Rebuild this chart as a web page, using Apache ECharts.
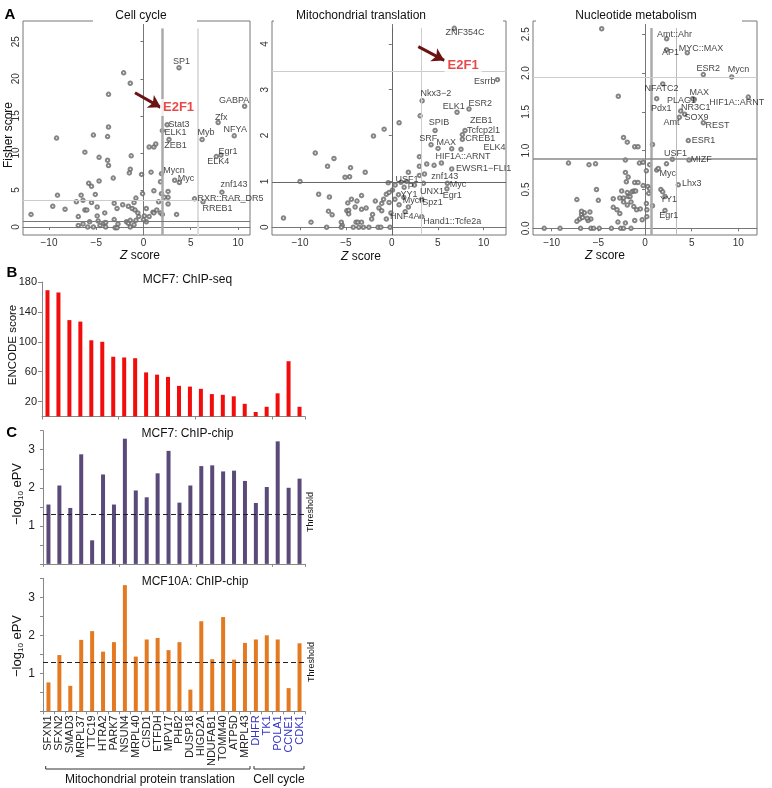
<!DOCTYPE html>
<html><head><meta charset="utf-8">
<script src="https://cdn.jsdelivr.net/npm/echarts@6/dist/echarts.min.js"></script>
<style>html,body{margin:0;padding:0;background:#fff}#c{width:772px;height:788px}</style>
</head><body><div id="c"></div>
<script>
const FONT = '"Liberation Sans", Arial, Helvetica, sans-serif';

// ---------------- Panel A data ----------------
const zTicks = [-10, -5, 0, 5, 10];
const cellCycleYTicks = [0, 5, 10, 15, 20, 25];
const mitoYTicks = [0, 1, 2, 3, 4];
const nucleotideYTicks = [0, 0.5, 1, 1.5, 2, 2.5];

const cellCycleZCut = [2.0, 5.7];
const cellCycleFisherCut = [0.8, 3.6];
const mitoZCut = [0, 3.15];
const mitoFisherCut = [0.98, 3.41];
const nucleotideZCut = [0.64, 3.32];
const nucleotideFisherCut = [0.90, 1.94];

const cellCycleLabeled = [
  ["SP1",3.76,21.5],["GABPA",10.7,16.3],["Zfx",7.9,14.1],["NFYA",9.6,12.3],["Myb",6.2,11.8],
  ["Stat3",2.5,13.8],["ELK1",2.0,13.0],["ZEB1",2.7,11.8],["Egr1",8.2,9.7],["ELK4",7.7,9.5],
  ["Mycn",1.9,7.2],["Myc",3.8,6.0],["znf143",8.3,4.7],["RXR::RAR_DR5",5.4,3.8],["RREB1",6.3,3.4]
];
const cellCycleOther = [
  [-2.1,20.8],[-1.4,19.4],[-3.7,17.9],[-9.2,12.0],[-5.3,12.4],[-3.8,12.2],[-3.7,13.5],[-6.2,10.1],[-4.7,9.4],[-3.8,9.0],
  [-3.7,8.3],[-1.3,9.6],[0.6,10.8],[1.1,10.8],[1.3,11.2],[-1.4,7.8],[-1.5,7.3],[-3.2,6.6],[-4.7,6.2],[-5.8,5.9],
  [-5.5,5.5],[-0.2,7.1],[0.8,7.4],[3.3,6.3],[-9.1,4.3],[-6.6,4.3],[-5.1,4.4],[-0.1,4.5],[1.1,4.9],[1.8,6.1],
  [1.9,4.5],[2.6,4.8],[2.6,4.0],[2.2,4.0],[1.6,3.4],[-9.6,2.8],[-8.3,2.4],[-7.1,3.4],[-6.4,3.6],[-5.5,3.3],
  [-6.2,2.3],[-6.0,2.3],[-4.9,2.7],[-4.1,1.9],[-3.1,3.2],[-2.8,2.5],[-2.2,3.0],[-1.6,2.8],[-1.0,3.3],[-0.8,3.9],
  [-1.2,2.5],[-0.9,2.3],[-0.6,1.9],[0.3,2.5],[0.1,1.5],[0.6,1.4],[1.0,2.0],[1.4,2.3],[1.8,1.9],[2.0,1.7],
  [3.5,1.7],[2.6,3.1],[-11.9,1.7],[-6.9,1.4],[-6.9,0.2],[-6.4,0.4],[-5.9,0.0],[-5.7,0.7],[-5.3,0.0],[-4.9,1.5],
  [-4.8,0.8],[-4.6,0.2],[-4.2,0.5],[-4.0,0.6],[-4.0,0.0],[-3.1,1.0],[-3.0,-0.1],[-2.8,-0.1],[-2.7,0.4],[-1.8,0.7],
  [-1.6,0.5],[-1.4,0.0],[-1.4,0.9],[-1.0,0.3],[-0.8,0.9],[0.3,0.7],[-0.5,1.4],[0.0,1.0],[1.1,1.9]
];

const mitoLabeled = [
  ["ZNF354C",6.8,4.34],["Esrrb",11.5,3.22],["Nkx3\u22122",3.3,2.76],["ELK1",7.1,2.51],["ESR2",8.4,2.58],
  ["ZEB1",7.68,2.02],["Tcfcp2l1",7.97,2.11],["CREB1",7.68,1.92],["ELK4",7.53,1.70],["SPIB",4.71,2.11],
  ["SRF",4.27,1.80],["MAX",5.03,1.72],["HIF1A::ARNT",6.52,1.71],["EWSR1\u2212FLI1",6.52,1.27],["znf143",3.55,1.16],
  ["USF1",2.46,0.92],["P",1.34,0.87],["YY1",0.72,0.71],["UNX1",3.44,0.96],["Myc",6.05,0.96],
  ["Egr1",6.0,0.84],["Mycn",0.79,0.49],["Spz1",3.26,0.61],["HNF4A",1.45,0.34],["Hand1::Tcfe2a",3.26,0.23]
];
const mitoOther = [
  [3.08,2.43],[0.79,2.28],[-0.84,2.14],[-2.0,1.99],[-8.34,1.62],[-6.3,1.50],[-7.0,1.33],[-4.5,1.30],[-4.6,1.10],[-5.1,1.09],
  [-2.9,1.20],[-10.0,1.00],[1.8,1.20],[3.0,1.54],[3.0,1.33],[3.8,1.38],[4.6,1.35],[5.4,1.40],[3.0,1.13],[-0.4,0.97],
  [0.36,0.92],[0.07,0.81],[1.0,0.98],[1.6,1.0],[-7.97,0.72],[-6.8,0.66],[-8.8,0.11],[-11.8,0.2],[-6.9,0.35],[-7.1,0.0],
  [-6.5,0.27],[-5.5,0.11],[-5.4,0.04],[-5.5,0.0],[-4.9,0.36],[-4.7,0.37],[-4.7,0.29],[-4.8,0.53],[-4.4,0.61],[-4.0,0.44],
  [-3.8,0.57],[-3.3,0.69],[-3.3,0.39],[-2.8,0.42],[-3.9,0.11],[-3.7,0.11],[-3.3,0.11],[-4.2,0.0],[-3.6,0.0],[-3.1,0.0],
  [-2.5,0.0],[-2.2,0.18],[-2.1,0.28],[-1.8,0.57],[-1.4,0.42],[-1.5,0.0],[-1.2,0.0],[-1.1,0.52],[-0.9,0.61],[-1.1,0.36],
  [-0.6,0.72],[-0.6,0.18],[-0.2,0.0],[-0.1,0.31],[-0.3,0.76],[-0.3,0.54],[0.33,0.61],[1.3,0.65],[1.8,0.44]
];

const nucleotideLabeled = [
  ["Amt::Ahr",2.32,2.44],["AP1",2.32,2.30],["MYC::MAX",4.53,2.26],["ESR2",6.25,1.98],["Mycn",9.29,1.95],
  ["NFATC2",1.9,1.86],["MAX",5.29,1.66],["PLAG1",5.11,1.67],["HIF1A::ARNT",11.07,1.69],["Pdx1",1.25,1.67],
  ["NR3C1",3.82,1.51],["SOX9",4.25,1.47],["Amt",3.68,1.43],["REST",6.25,1.36],["ESR1",4.64,1.13],
  ["USF1",2.93,0.89],["MIZF",4.71,0.88],["Myc",1.43,0.77],["Lhx3",3.57,0.56],["YY1",2.14,0.41],["Egr1",2.14,0.23]
];
const nucleotideOther = [
  [-4.64,2.57],[-2.86,1.70],[-2.3,1.17],[-1.9,1.11],[-1.1,1.05],[-0.75,1.05],[0.8,1.08],[-8.2,0.84],[-6.0,0.82],[-5.3,0.83],
  [-2.1,0.88],[-0.6,0.84],[-0.2,0.85],[0.5,0.82],[0.15,0.74],[1.25,0.75],[2.3,0.83],[-2.1,0.72],[-1.8,0.66],[-2.0,0.60],
  [-1.1,0.59],[-0.75,0.59],[-0.2,0.55],[0.3,0.54],[0.5,0.51],[0.4,0.45],[1.7,0.50],[1.9,0.47],[-5.2,0.50],[-2.5,0.48],
  [-1.9,0.46],[-1.4,0.47],[-1.2,0.48],[-1.0,0.48],[-1.8,0.41],[-1.6,0.41],[-2.3,0.39],[-3.4,0.38],[-2.7,0.39],[-7.3,0.37],
  [-5.0,0.36],[-2.3,0.34],[-1.9,0.30],[-1.5,0.34],[-1.2,0.28],[-3.4,0.27],[-3.0,0.24],[-0.9,0.24],[-0.5,0.25],[0.15,0.32],
  [0.2,0.24],[0.8,0.29],[-6.8,0.18],[-6.5,0.20],[-6.8,0.22],[-5.9,0.21],[-5.8,0.12],[-7.0,0.12],[-6.7,0.14],[-7.3,0.09],
  [-2.9,0.08],[-2.7,0.19],[-2.1,0.07],[-1.1,0.10],[-0.3,0.11],[0.2,0.15],[-6.1,0.10],[-6.2,0.13],[-5.8,0.0],[-4.9,0.0],
  [-5.5,0.0],[-6.9,0.0],[-2.6,0.0],[-2.3,0.0],[-10.8,0.0],[-9.1,0.0],[-3.6,0.0],[-1.5,0.0]
];

// E2F1 annotation anchors (data units)
const cellCycleE2F1 = [1.80, 16.06];
const cellCycleArrow = [[-0.90, 18.12], [1.82, 16.15]];
const mitoE2F1 = [5.80, 3.52];
const mitoArrow = [[2.88, 3.94], [5.71, 3.64]];

// ---------------- Panels B, C data ----------------
const genesMito = ["SFXN1","SFXN2","SMAD3","MRPL37","TTC19","HTRA2","PARK7","NSUN4","MRPL40","CISD1","ETFDH","MPV17","PHB2","DUSP18","HIGD2A","NDUFAB1","TOMM40","ATP5D","MRPL43"];
const genesCellCycle = ["DHFR","TK1","POLA1","CCNE1","CDK1"];
const encodeScore = [169,166,129,127,102,100,80,79,78,59,56,53,41,40,37,30,29,27,17,6,13,31,74,13];
const mcf7ePV = [1.56,2.06,1.47,2.88,0.62,2.35,1.56,3.29,1.93,1.75,2.38,2.97,1.61,2.06,2.57,2.59,2.43,2.45,2.18,1.60,2.02,3.22,2.00,2.24];
const mcf10aePV = [0.76,1.48,0.67,1.88,2.11,1.57,1.82,3.32,1.44,1.89,1.93,1.61,1.82,0.57,2.37,1.37,2.48,1.36,1.80,1.89,2.00,1.89,0.61,1.79];
const encodeTicks = [20, 60, 100, 140, 180];
const ePVThreshold = 1.301;
const genes = genesMito.concat(genesCellCycle);

// ---------------- layout / style (not data) ----------------
const LABEL_OFF = {
  cell: {"SP1":[3,-5.5],"GABPA":[-10,-5.5],"Zfx":[3.5,-4.5],"NFYA":[1.5,-5.5],"Myb":[4.5,-7],"Stat3":[12.5,0.5],
    "ELK1":[13.5,2.5],"ZEB1":[7,6],"Egr1":[7.5,-3.5],"ELK4":[2.5,5],"Mycn":[13,-2.5],"Myc":[7,-4],"znf143":[12.5,-7],
    "RXR::RAR_DR5":[36.5,0.5],"RREB1":[15,7]},
  mito: {"ZNF354C":[11.3,5],"Esrrb":[-12.3,2.7],"Nkx3\u22122":[14.3,-6.3],"ELK1":[-2.7,-5],"ESR2":[11.7,-5],"ZEB1":[19.3,-13.3],
    "Tcfcp2l1":[19,0],"CREB1":[18.3,0],"ELK4":[34,-1],"SPIB":[4.3,-7.3],"SRF":[-2.3,-5.7],"MAX":[8.7,-5],"HIF1A::ARNT":[11.7,7.7],
    "EWSR1\u2212FLI1":[32.3,0],"znf143":[20.7,2.7],"USF1":[-7,-5],"P":[7,0],"YY1":[11,0],"UNX1":[9,9],"Myc":[11,1.7],
    "Egr1":[5.7,7.7],"Mycn":[15,-3.3],"Spz1":[11.3,4],"HNF4A":[0,5.7],"Hand1::Tcfe2a":[31,5]},
  nuc: {"Amt::Ahr":[8.3,-4.3],"AP1":[4.3,3.3],"MYC::MAX":[14.3,-4.3],"ESR2":[5.3,-5.7],"Mycn":[7.3,-6.7],"NFATC2":[-0.7,5],
    "MAX":[5.3,-6.7],"PLAG1":[-10.7,2],"HIF1A::ARNT":[-11,6],"Pdx1":[5,10],"NR3C1":[15.7,-2.7],"SOX9":[12.3,4],"Amt":[-7.3,5.3],
    "REST":[14.7,3.3],"ESR1":[15.7,0],"USF1":[3.7,-5],"MIZF":[12.7,0],"Myc":[10,5.7],"Lhx3":[14,-1],"YY1":[4,4],"Egr1":[4.3,5.3]}
};

const PANELS = [
  {key:'cell', pts:cellCycleOther, lab:cellCycleLabeled, zc:cellCycleZCut, fc:cellCycleFisherCut, yt:cellCycleYTicks,
   xr:[-12.75,11.27], yr:[-1.08,27.8], grid:{left:23,top:21,width:227,height:214}, vTop:26.8,
   vStyle:[{color:'#aaa',width:2.5},{color:'#ddd',width:2}], hStyle:[{color:'#777',width:1},{color:'#ccc',width:1}],
   e2f1:cellCycleE2F1, arrow:cellCycleArrow, yfmt:v=>String(v)},
  {key:'mito', pts:mitoOther, lab:mitoLabeled, zc:mitoZCut, fc:mitoFisherCut, yt:mitoYTicks,
   xr:[-13.05,12.43], yr:[-0.17,4.50], grid:{left:272,top:21,width:234,height:214}, vTop:4.35,
   vStyle:[{color:'#666',width:1},{color:'#ccc',width:1}], hStyle:[{color:'#666',width:1},{color:'#ccc',width:1}],
   e2f1:mitoE2F1, arrow:mitoArrow, yfmt:v=>String(v)},
  {key:'nuc', pts:nucleotideOther, lab:nucleotideLabeled, zc:nucleotideZCut, fc:nucleotideFisherCut, yt:nucleotideYTicks,
   xr:[-12.0,12.0], yr:[-0.086,2.67], grid:{left:533,top:21,width:224,height:214}, vTop:2.58,
   vStyle:[{color:'#aaa',width:2.5},{color:'#bbb',width:1}], hStyle:[{color:'#888',width:1.5},{color:'#ccc',width:1}],
   e2f1:null, arrow:null, yfmt:v=>v.toFixed(1)}
];

const minusFmt = v => (v < 0 ? '\u2212' + (-v) : String(v));

const grids = [], xAxes = [], yAxes = [], series = [];

PANELS.forEach((p, i) => {
  grids.push(Object.assign({show:true, borderColor:'#777', borderWidth:1, containLabel:false}, p.grid));
  xAxes.push({gridIndex:i, type:'value', min:p.xr[0], max:p.xr[1],
    axisLine:{show:true, lineStyle:{color:'#777'}},
    axisTick:{show:true, customValues:zTicks, length:3, lineStyle:{color:'#777'}},
    axisLabel:{customValues:zTicks, formatter:minusFmt, fontSize:10, color:'#333', margin:3, fontFamily:FONT},
    splitLine:{show:false}});
  yAxes.push({gridIndex:i, type:'value', min:p.yr[0], max:p.yr[1],
    axisLine:{show:true, lineStyle:{color:'#777'}},
    axisTick:{show:true, customValues:p.yt, length:3, lineStyle:{color:'#777'}},
    axisLabel:{customValues:p.yt, formatter:p.yfmt, rotate:90, fontSize:10, color:'#333', margin:2, fontFamily:FONT},
    splitLine:{show:false}});
  const ml = [];
  p.zc.forEach((z, k) => {
    const ls = {color:p.vStyle[k].color, width:p.vStyle[k].width, type:'solid'};
    ml.push([{coord:[z, p.yr[0]], lineStyle:ls}, {coord:[z, p.vTop], lineStyle:ls}]);
  });
  p.fc.forEach((f, k) => {
    ml.push({yAxis:f, lineStyle:{color:p.hStyle[k].color, width:p.hStyle[k].width, type:'solid'}});
  });
  if (p.arrow) {
    const ls = {color:'#6b1212', width:3, type:'solid'};
    ml.push([{coord:p.arrow[0], symbol:'none', lineStyle:ls}, {coord:p.arrow[1], symbol:'arrow', symbolSize:[11,12], lineStyle:ls}]);
  }
  series.push({type:'scatter', xAxisIndex:i, yAxisIndex:i, silent:true, z:3,
    symbol:'emptyCircle', symbolSize:3.5, itemStyle:{color:'#666', borderWidth:0.6},
    data: p.pts.concat(p.lab.map(l => [l[1], l[2]])),
    markLine:{silent:true, symbol:['none','none'], label:{show:false}, animation:false, data:ml}});
  const labData = p.lab.map(l => ({name:l[0], value:[l[1], l[2]],
    label:{position:LABEL_OFF[p.key][l[0]] || [0,0]}}));
  if (p.e2f1) {
    labData.push({name:'E2F1', value:p.e2f1, label:{position:[0,0], align:'left', fontSize:13, fontWeight:'bold',
      color:'#e41a1c', backgroundColor:'#fff', padding:[2,3]}});
  }
  series.push({type:'scatter', xAxisIndex:i, yAxisIndex:i, silent:true, z:6,
    symbol:'circle', symbolSize:1, itemStyle:{color:'rgba(0,0,0,0)'},
    label:{show:true, formatter:'{b}', align:'center', verticalAlign:'middle', fontSize:9, color:'#111', fontFamily:FONT},
    labelLayout:{hideOverlap:false},
    data:labData});
});

// Panel B and C grids
const barGrids = [
  {left:42, top:282, width:263, height:134.5},
  {left:43, top:430.7, width:262, height:133.2},
  {left:43, top:578.3, width:262, height:133}
];
barGrids.forEach(g => grids.push(g));
const baseCat = (gi, showLabels) => ({gridIndex:gi, type:'category', data:genes,
  axisLine:{show:true, lineStyle:{color:'#888'}},
  axisTick:{show:true, length:3, lineStyle:{color:'#888'}},
  axisLabel: showLabels ? {show:true, interval:0, rotate:90, fontSize:11, margin:4, fontFamily:FONT,
     color: v => (genesCellCycle.indexOf(v) >= 0 ? '#3333c8' : '#222')} : {show:false},
  splitLine:{show:false}});
xAxes.push(baseCat(3, false), baseCat(4, false), baseCat(5, true));
yAxes.push({gridIndex:3, type:'value', min:0, max:180,
  axisLine:{show:true, lineStyle:{color:'#888'}},
  axisTick:{show:true, customValues:encodeTicks, length:4, lineStyle:{color:'#888'}},
  axisLabel:{customValues:encodeTicks, fontSize:11, color:'#222', margin:5, fontFamily:FONT},
  splitLine:{show:false}});
const ePVAxis = gi => ({gridIndex:gi, type:'value', min:0, max:3.5, interval:0.5,
  axisLine:{show:true, lineStyle:{color:'#888'}},
  axisTick:{show:true, length:3, lineStyle:{color:'#888'}},
  axisLabel:{fontSize:12, color:'#222', margin:8, fontFamily:FONT,
    formatter: v => (v >= 1 && Number.isInteger(v) ? String(v) : '')},
  splitLine:{show:false}});
yAxes.push(ePVAxis(4), ePVAxis(5));

series.push({type:'bar', xAxisIndex:3, yAxisIndex:3, data:encodeScore, barWidth:4, itemStyle:{color:'#f20d0d'}, silent:true});
const thrLine = {silent:true, symbol:['none','none'], label:{show:false}, animation:false,
  lineStyle:{color:'#222', type:[5,3], width:1.2}, data:[{yAxis:ePVThreshold}]};
series.push({type:'bar', xAxisIndex:4, yAxisIndex:4, data:mcf7ePV, barWidth:4, itemStyle:{color:'#594a7a'}, silent:true, markLine:thrLine});
series.push({type:'bar', xAxisIndex:5, yAxisIndex:5, data:mcf10aePV, barWidth:4, itemStyle:{color:'#e37a22'}, silent:true, markLine:thrLine});

// ---------------- annotations ----------------
const T = (x, y, text, o) => Object.assign({type:'text', x:x, y:y, z:100,
  style:Object.assign({text:text, fontSize:12, fontFamily:FONT, fill:'#111', align:'center', verticalAlign:'middle'}, (o && o.style) || {})},
  o && o.rotation ? {rotation:o.rotation} : {});
const R90 = Math.PI / 2;
const graphic = [
  {type:'rect', z:99, shape:{x:93, y:18, width:104, height:6}, style:{fill:'#fff'}},
  {type:'rect', z:99, shape:{x:274, y:18, width:229, height:6}, style:{fill:'#fff'}},
  {type:'rect', z:99, shape:{x:536, y:18, width:206, height:6}, style:{fill:'#fff'}},
  T(141, 15.5, 'Cell cycle'),
  T(361, 16, 'Mitochondrial translation'),
  T(636, 15.5, 'Nucleotide metabolism'),
  T(140, 256, '{i|Z} score', {style:{rich:{i:{fontStyle:'italic', fontSize:12, fontFamily:FONT}}}}),
  T(361, 257, '{i|Z} score', {style:{rich:{i:{fontStyle:'italic', fontSize:12, fontFamily:FONT}}}}),
  T(605, 256, '{i|Z} score', {style:{rich:{i:{fontStyle:'italic', fontSize:12, fontFamily:FONT}}}}),
  T(8.5, 135, 'Fisher score', {rotation:R90}),
  T(10, 15, 'A', {style:{fontWeight:'bold', fontSize:15, fill:'#000'}}),
  T(12, 272.5, 'B', {style:{fontWeight:'bold', fontSize:15, fill:'#000'}}),
  T(11.7, 432.5, 'C', {style:{fontWeight:'bold', fontSize:15, fill:'#000'}}),
  T(187.5, 280, 'MCF7: ChIP-seq'),
  T(187.5, 433.5, 'MCF7: ChIP-chip'),
  T(195, 581.7, 'MCF10A: ChIP-chip'),
  T(13, 345, 'ENCODE score', {rotation:R90, style:{fontSize:11.5}}),
  T(17, 494, '\u2212log{s|10} ePV', {rotation:R90, style:{fontSize:13, lineHeight:16,
      rich:{s:{fontSize:8, lineHeight:16, verticalAlign:'bottom', fontFamily:FONT}}}}),
  T(17, 646, '\u2212log{s|10} ePV', {rotation:R90, style:{fontSize:13, lineHeight:16,
      rich:{s:{fontSize:8, lineHeight:16, verticalAlign:'bottom', fontFamily:FONT}}}}),
  T(310.5, 512, 'Threshold', {rotation:R90, style:{fontSize:9}}),
  T(311.5, 662, 'Threshold', {rotation:R90, style:{fontSize:9}}),
  {type:'polyline', z:100, shape:{points:[[45.7,766],[45.7,769],[250,769],[250,766]]}, style:{stroke:'#333', lineWidth:1, fill:null}},
  {type:'polyline', z:100, shape:{points:[[254,766],[254,769],[304,769],[304,766]]}, style:{stroke:'#333', lineWidth:1, fill:null}},
  T(150, 780, 'Mitochondrial protein translation'),
  T(279, 780, 'Cell cycle')
];

const chart = echarts.init(document.getElementById('c'));
chart.setOption({
  animation:false,
  backgroundColor:'#fff',
  textStyle:{fontFamily:FONT},
  grid:grids, xAxis:xAxes, yAxis:yAxes, series:series, graphic:graphic
});
</script>
</body></html>
